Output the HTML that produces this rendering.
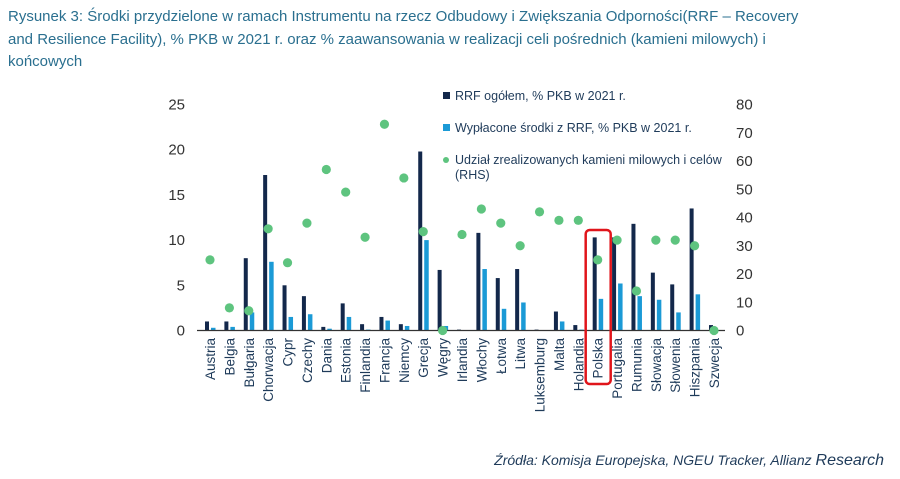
<!DOCTYPE html>
<html><head><meta charset="utf-8"><style>
body{margin:0;background:#fff;width:900px;height:479px;overflow:hidden;font-family:"Liberation Sans",sans-serif}
.title{position:absolute;left:8px;top:6px;width:892px;font-size:15px;line-height:22.5px;color:#2a6f8f;white-space:nowrap}
.src{position:absolute;right:16px;top:452px;font-size:14px;font-style:italic;color:#1f3b5a}
</style></head><body>
<div class="title">Rysunek 3: Środki przydzielone w ramach Instrumentu na rzecz Odbudowy i Zwiększania Odporności(RRF – Recovery<br>and Resilience Facility), % PKB w 2021 r. oraz % zaawansowania w realizacji celi pośrednich (kamieni milowych) i<br>końcowych</div>
<svg id="chart" width="900" height="479" style="position:absolute;left:0;top:0" font-family="Liberation Sans, sans-serif"></svg>
<div class="src">Źródła: Komisja Europejska, NGEU Tracker, Allianz <span style="font-size:16px">Research</span></div>
<script>
const categories=["Austria","Belgia","Bułgaria","Chorwacja","Cypr","Czechy","Dania","Estonia","Finlandia","Francja","Niemcy","Grecja","Węgry","Irlandia","Włochy","Łotwa","Litwa","Luksemburg","Malta","Holandia","Polska","Portugalia","Rumunia","Słowacja","Słowenia","Hiszpania","Szwecja"];
const rrfTotal=[1.0,1.0,8.0,17.2,5.0,3.8,0.4,3.0,0.7,1.5,0.7,19.8,6.7,0.1,10.8,5.8,6.8,0.1,2.1,0.6,10.3,10.3,11.8,6.4,5.1,13.5,0.6];
const rrfPaid=[0.3,0.4,2.0,7.6,1.5,1.8,0.2,1.5,0.1,1.1,0.5,10.0,0.5,0,6.8,2.4,3.1,0,1.0,0.1,3.5,5.2,3.8,3.4,2.0,4.0,0];
const milestones=[25,8,7,36,24,38,57,49,33,73,54,35,0,34,43,38,30,42,39,39,25,32,14,32,32,30,0];
const leftTicks=[0,5,10,15,20,25];
const rightTicks=[0,10,20,30,40,50,60,70,80];
const NS="http://www.w3.org/2000/svg",svg=document.getElementById("chart");
const y0=330.5,yL=v=>y0-v*9.04,yR=v=>y0-v*2.825;
const step=(714-210)/(categories.length-1),xC=i=>210+i*step;
function mk(t,a){const e=document.createElementNS(NS,t);for(const k in a)e.setAttribute(k,a[k]);svg.appendChild(e);return e;}
leftTicks.forEach(v=>{const t=mk("text",{x:185,y:yL(v)+5,"text-anchor":"end","font-size":15,fill:"#333"});t.textContent=v;

});
rightTicks.forEach(v=>{const t=mk("text",{x:736,y:yR(v)+5,"font-size":15,fill:"#333"});t.textContent=v;

});
categories.forEach((c,i)=>{const x=xC(i);
const b1=mk("rect",{x:x-5,y:yL(rrfTotal[i]),width:4,height:rrfTotal[i]*9.04,fill:"#13284b"});


const b2=mk("rect",{x:x+1,y:yL(rrfPaid[i]),width:4.5,height:rrfPaid[i]*9.04,fill:"#1b9ad6"});


const t=mk("text",{x:0,y:0,transform:`translate(${x+5},338) rotate(-90)`,"text-anchor":"end","font-size":13.5,fill:"#1f3b5a"});t.textContent=c;

});
const ax=mk("line",{x1:197,x2:725,y1:y0,y2:y0,stroke:"#333","stroke-width":1.3});


categories.forEach((c,i)=>{const d=mk("circle",{cx:xC(i),cy:yR(milestones[i]),r:4.6,fill:"#5ec47f"});

});
const pi=categories.indexOf("Polska");
const hl=mk("rect",{x:xC(pi)-12,y:230,width:25,height:154,rx:4,fill:"none",stroke:"#e0151b","stroke-width":2.5});


const leg=[["#13284b","RRF ogółem, % PKB w 2021 r.",96,"rect"],["#1b9ad6","Wypłacone środki z RRF, % PKB w 2021 r.",128,"rect"],["#5ec47f","Udział zrealizowanych kamieni milowych i celów",160,"circle"]];
leg.forEach(l=>{const m=l[3]=="rect"?mk("rect",{x:443,y:l[2]-4,width:7,height:7,fill:l[0]}):mk("circle",{cx:446,cy:l[2],r:3,fill:l[0]});


const t=mk("text",{x:455,y:l[2]+4,"font-size":12.5,fill:"#1f3b5a"});t.textContent=l[1];

});
const t2=mk("text",{x:455,y:179,"font-size":12.5,fill:"#1f3b5a"});t2.textContent="(RHS)";


</script>
</body></html>
